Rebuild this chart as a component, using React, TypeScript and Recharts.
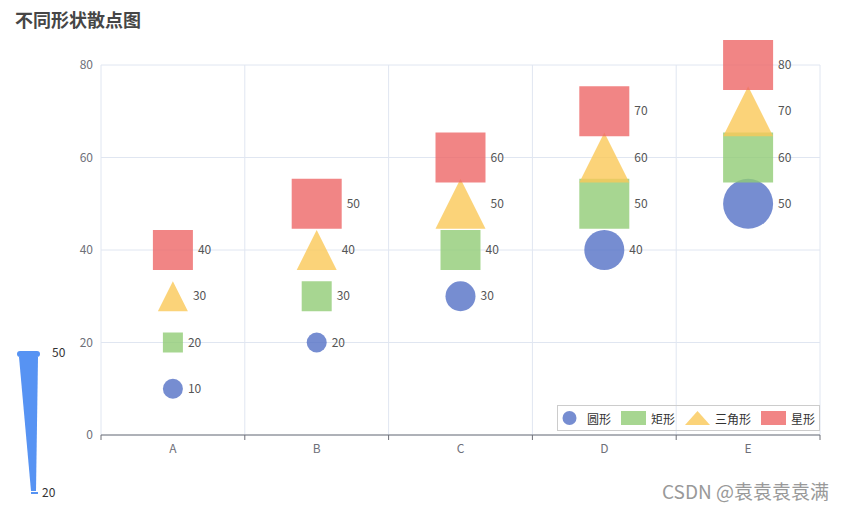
import React from 'react';
import { CartesianGrid, Scatter, ScatterChart, XAxis, YAxis } from 'recharts';

const categories = ['A', 'B', 'C', 'D', 'E'];
const circleValues = [10, 20, 30, 40, 50];
const rectValues = [20, 30, 40, 50, 60];
const triangleValues = [30, 40, 50, 60, 70];
const starValues = [40, 50, 60, 70, 80];
const yTicks = [0, 20, 40, 60, 80];
const sizeRange = [20, 50];

const seriesList = [
  { name: '圆形', symbol: 'circle', color: '#5470c6', values: circleValues, legendX: 557 },
  { name: '矩形', symbol: 'rect', color: '#91cc75', values: rectValues, legendX: 621 },
  { name: '三角形', symbol: 'triangle', color: '#fac858', values: triangleValues, legendX: 685 },
  { name: '星形', symbol: 'rect', color: '#ee6666', values: starValues, legendX: 761 },
];

const W = 849;
const H = 510;
const LEFT = 101;
const RIGHT = 29;
const FONT = '"Noto Sans CJK SC", "Noto Sans", sans-serif';
const halfBand = (W - LEFT - RIGHT) / categories.length / 2;

const toPoints = (values: number[]) =>
  values.map((v, i) => ({ x: i + 0.5, y: v, cat: categories[i] }));

const symbolSize = (v: number) => Math.max(sizeRange[0], Math.min(sizeRange[1], v));

const makeShape = (symbol: string, color: string) => (props: any) => {
  const { cx, cy, payload } = props;
  const s = symbolSize(payload.y);
  let mark;
  if (symbol === 'circle') {
    mark = <circle cx={cx} cy={cy} r={s / 2} fill={color} fillOpacity={0.8} />;
  } else if (symbol === 'triangle') {
    const pts = `${cx},${cy - s / 2} ${cx + s / 2},${cy + s / 2} ${cx - s / 2},${cy + s / 2}`;
    mark = <polygon points={pts} fill={color} fillOpacity={0.8} />;
  } else {
    mark = <rect x={cx - s / 2} y={cy - s / 2} width={s} height={s} fill={color} fillOpacity={0.8} />;
  }
  return (
    <g>
      {mark}
      <text x={cx + s / 2 + 5} y={cy} dy="0.35em" fontSize={12} fill="#555" fontFamily={FONT}>
        {payload.y}
      </text>
    </g>
  );
};

const XTick = (props: any) => {
  const { x, y, payload } = props;
  if (payload.value >= categories.length) return null;
  return (
    <text x={x + halfBand} y={y} dy="0.71em" textAnchor="middle" fontSize={12} fill="#6e7079" fontFamily={FONT}>
      {categories[payload.value]}
    </text>
  );
};

const LegendIcon = ({ symbol, color }: { symbol: string; color: string }) => (
  <svg width={25} height={14} style={{ display: 'block', flexShrink: 0 }}>
    {symbol === 'circle' && <circle cx={12.5} cy={7} r={7} fill={color} fillOpacity={0.8} />}
    {symbol === 'rect' && <rect x={0} y={0} width={25} height={14} fill={color} fillOpacity={0.8} />}
    {symbol === 'triangle' && <polygon points="12.5,0 25,14 0,14" fill={color} fillOpacity={0.8} />}
  </svg>
);

export default function App() {
  return (
    <div style={{ position: 'absolute', left: 0, top: 0, width: W, height: H, background: '#fff', fontFamily: FONT }}>
      <div style={{ position: 'absolute', left: 15, top: 6, fontSize: 18, fontWeight: 'bold', color: '#464646' }}>
        不同形状散点图
      </div>
      <ScatterChart width={W} height={H} margin={{ top: 65, right: RIGHT, bottom: 45, left: 0 }}>
        <CartesianGrid stroke="#e0e6f1" horizontal vertical />
        <XAxis
          type="number"
          dataKey="x"
          domain={[0, categories.length]}
          ticks={[0, 1, 2, 3, 4, 5]}
          tick={<XTick />}
          tickSize={5}
          tickMargin={4}
          height={30}
          axisLine={{ stroke: '#6e7079' }}
          tickLine={{ stroke: '#6e7079' }}
          allowDataOverflow
        />
        <YAxis
          type="number"
          dataKey="y"
          domain={[0, 80]}
          ticks={yTicks}
          width={LEFT}
          axisLine={false}
          tickLine={false}
          tick={{ fontSize: 12, fill: '#6e7079', fontFamily: FONT }}
        />
        {seriesList.map((s) => (
          <Scatter
            key={s.name}
            name={s.name}
            data={toPoints(s.values)}
            fill={s.color}
            shape={makeShape(s.symbol, s.color)}
            isAnimationActive={false}
          />
        ))}
      </ScatterChart>
      <div
        style={{
          position: 'absolute',
          left: 557,
          top: 405,
          width: 263,
          height: 26,
          border: '1px solid #ccc',
          boxSizing: 'border-box',
          fontSize: 12,
          color: '#333',
        }}
      >
        {seriesList.map((s) => (
          <div
            key={s.name}
            style={{
              position: 'absolute',
              left: s.legendX - 558,
              top: 5,
              display: 'flex',
              alignItems: 'center',
              whiteSpace: 'nowrap',
              height: 14,
            }}
          >
            <LegendIcon symbol={s.symbol} color={s.color} />
            <span style={{ marginLeft: 5 }}>{s.name}</span>
          </div>
        ))}
      </div>
      <svg style={{ position: 'absolute', left: 0, top: 0 }} width={W} height={H} pointerEvents="none">
        <polygon points="19,357 38,357 36,491 31,491" fill="#5793f3" />
        <rect x={17} y={351} width={23} height={6} rx={3} fill="#5793f3" />
        <rect x={31} y={492} width={7} height={2} fill="#5793f3" />
        <text x={52} y={353} dy="0.35em" fontSize={12} fill="#333" fontFamily={FONT}>
          {sizeRange[1]}
        </text>
        <text x={42} y={493} dy="0.35em" fontSize={12} fill="#333" fontFamily={FONT}>
          {sizeRange[0]}
        </text>
        <text x={662} y={499} fontSize={19} fill="#999" fontFamily={FONT}>
          CSDN @袁袁袁袁满
        </text>
      </svg>
    </div>
  );
}
